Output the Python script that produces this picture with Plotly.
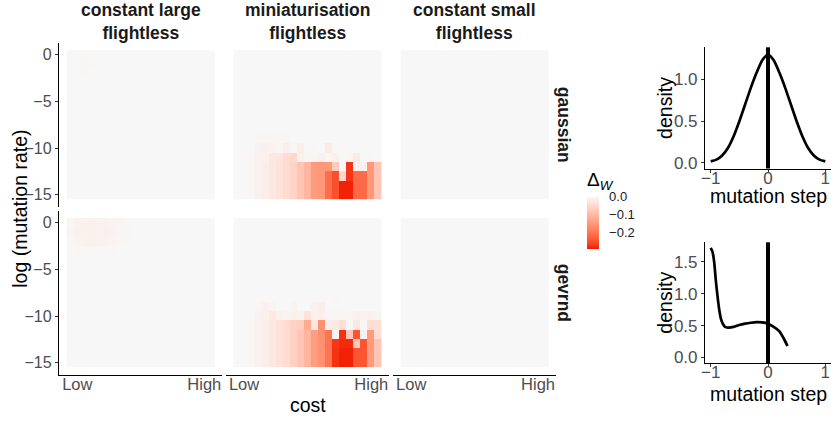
import plotly.graph_objects as go

W, H = 831, 421
FONT = "Liberation Sans, Arial, sans-serif"

# ---------------- data ----------------
cost = [0.00, 0.05, 0.10, 0.15, 0.20, 0.25, 0.30, 0.35, 0.40, 0.45, 0.50,
        0.55, 0.60, 0.65, 0.70, 0.75, 0.80, 0.85, 0.90, 0.95, 1.00]
log_mu = [0, -1, -2, -3, -4, -5, -6, -7, -8, -9, -10, -11, -12, -13, -14, -15]
cost_tickvals = [0.05, 0.95]
cost_ticktext = ["Low", "High"]
mu_tickvals = [0, -5, -10, -15]
mu_ticktext = ["0", "−5", "−10", "−15"]

col_labels = ["constant large<br>flightless", "miniaturisation<br>flightless", "constant small<br>flightless"]
row_labels = ["gaussian", "gevrnd"]

# delta W, rows = log_mu (0 .. -15), cols = cost
gauss_large = [
    [0, -0.002, -0.002, -0.001, 0, 0, 0, 0, 0, 0, 0, 0, 0, 0, 0, 0, 0, 0, 0, 0, 0],
    [-0.001, -0.002, -0.002, -0.002, 0, 0, 0, 0, 0, 0, 0, 0, 0, 0, 0, 0, 0, 0, 0, 0, 0],
    [0, -0.001, -0.002, 0, 0, 0, 0, 0, 0, 0, 0, 0, 0, 0, 0, 0, 0, 0, 0, 0, 0],
    [0, 0, 0, 0, 0, 0, 0, 0, 0, 0, 0, 0, 0, 0, 0, 0, 0, 0, 0, 0, 0],
    [0, 0, 0, 0, 0, 0, 0, 0, 0, 0, 0, 0, 0, 0, 0, 0, 0, 0, 0, 0, 0],
    [0, 0, 0, 0, 0, 0, 0, 0, 0, 0, 0, 0, 0, 0, 0, 0, 0, 0, 0, 0, 0],
    [0, 0, 0, 0, 0, 0, 0, 0, 0, 0, 0, 0, 0, 0, 0, 0, 0, 0, 0, 0, 0],
    [0, 0, 0, 0, 0, 0, 0, 0, 0, 0, 0, 0, 0, 0, 0, 0, 0, 0, 0, 0, 0],
    [0, 0, 0, 0, 0, 0, 0, 0, 0, 0, 0, 0, 0, 0, 0, 0, 0, 0, 0, 0, 0],
    [0, 0, 0, 0, 0, 0, 0, 0, 0, 0, 0, 0, 0, 0, 0, 0, 0, 0, 0, 0, 0],
    [0, 0, 0, 0, 0, 0, 0, 0, 0, 0, 0, 0, 0, 0, 0, 0, 0, 0, 0, 0, 0],
    [0, 0, 0, 0, 0, 0, 0, 0, 0, 0, 0, 0, 0, 0, 0, 0, 0, 0, 0, 0, 0],
    [0, 0, 0, 0, 0, 0, 0, 0, 0, 0, 0, 0, 0, 0, 0, 0, 0, 0, 0, 0, 0],
    [0, 0, 0, 0, 0, 0, 0, 0, 0, 0, 0, 0, 0, 0, 0, 0, 0, 0, 0, 0, 0],
    [0, 0, 0, 0, 0, 0, 0, 0, 0, 0, 0, 0, 0, 0, 0, 0, 0, 0, 0, 0, 0],
    [0, 0, 0, 0, 0, 0, 0, 0, 0, 0, 0, 0, 0, 0, 0, 0, 0, 0, 0, 0, 0],
]

gauss_mini = [
    [0, 0, 0, 0, 0, 0, 0, 0, 0, 0, 0, 0, 0, 0, 0, 0, 0, 0, 0, 0, 0],
    [0, 0, 0, 0, 0, 0, 0, 0, 0, 0, 0, 0, 0, 0, 0, 0, 0, 0, 0, 0, 0],
    [0, 0, 0, 0, 0, 0, 0, 0, 0, 0, 0, 0, 0, 0, 0, 0, 0, 0, 0, 0, 0],
    [0, 0, 0, 0, 0, 0, 0, 0, 0, 0, 0, 0, 0, 0, 0, 0, 0, 0, 0, 0, 0],
    [0, 0, 0, 0, 0, 0, 0, 0, 0, 0, 0, 0, 0, 0, 0, 0, 0, 0, 0, 0, 0],
    [0, 0, 0, 0, 0, 0, 0, 0, 0, 0, 0, 0, 0, 0, 0, 0, 0, 0, 0, 0, 0],
    [0, 0, 0, 0, 0, 0, 0, 0, 0, 0, 0, 0, 0, 0, 0, 0, 0, 0, 0, 0, 0],
    [0, 0, 0, 0, 0, 0, 0, 0, 0, 0, 0, 0, 0, 0, 0, 0, 0, 0, 0, 0, 0],
    [0, 0, 0, 0, 0, 0, 0, 0, 0, 0, 0, 0, 0, 0, 0, 0, 0, 0, 0, 0, 0],
    [0, 0, 0, -0.003, -0.003, -0.003, -0.002, -0.003, 0, 0, 0, 0, 0, 0, 0, 0, 0, 0, 0, 0, 0],
    [0, 0, 0, -0.008, -0.010, -0.008, -0.004, -0.015, -0.003, -0.015, 0, -0.002, 0, -0.020, 0, 0, 0, 0, 0, 0, 0],
    [0, 0, -0.003, -0.010, -0.012, -0.025, -0.030, -0.045, -0.050, -0.012, -0.003, -0.006, -0.010, -0.003, -0.012, 0, -0.004, -0.022, 0, -0.003, 0],
    [0, 0, -0.003, -0.010, -0.015, -0.025, -0.032, -0.045, -0.055, -0.080, -0.105, -0.145, -0.150, -0.150, -0.070, 0, -0.270, -0.010, -0.010, -0.150, -0.080],
    [0, 0, -0.003, -0.010, -0.015, -0.025, -0.032, -0.045, -0.055, -0.080, -0.105, -0.145, -0.150, -0.210, -0.245, -0.050, -0.270, -0.215, -0.215, -0.150, -0.080],
    [0, 0, -0.003, -0.010, -0.015, -0.025, -0.032, -0.045, -0.055, -0.080, -0.105, -0.145, -0.150, -0.210, -0.245, -0.285, -0.285, -0.215, -0.215, -0.150, -0.080],
    [0, 0, -0.003, -0.010, -0.015, -0.025, -0.032, -0.045, -0.055, -0.080, -0.105, -0.145, -0.150, -0.210, -0.245, -0.285, -0.285, -0.215, -0.215, -0.150, -0.080],
]

gauss_small = [
    [0, 0, 0, 0, 0, 0, 0, 0, 0, 0, 0, 0, 0, 0, 0, 0, 0, 0, 0, 0, 0],
    [0, 0, 0, 0, 0, 0, 0, 0, 0, 0, 0, 0, 0, 0, 0, 0, 0, 0, 0, 0, 0],
    [0, 0, 0, 0, 0, 0, 0, 0, 0, 0, 0, 0, 0, 0, 0, 0, 0, 0, 0, 0, 0],
    [0, 0, 0, 0, 0, 0, 0, 0, 0, 0, 0, 0, 0, 0, 0, 0, 0, 0, 0, 0, 0],
    [0, 0, 0, 0, 0, 0, 0, 0, 0, 0, 0, 0, 0, 0, 0, 0, 0, 0, 0, 0, 0],
    [0, 0, 0, 0, 0, 0, 0, 0, 0, 0, 0, 0, 0, 0, 0, 0, 0, 0, 0, 0, 0],
    [0, 0, 0, 0, 0, 0, 0, 0, 0, 0, 0, 0, 0, 0, 0, 0, 0, 0, 0, 0, 0],
    [0, 0, 0, 0, 0, 0, 0, 0, 0, 0, 0, 0, 0, 0, 0, 0, 0, 0, 0, 0, 0],
    [0, 0, 0, 0, 0, 0, 0, 0, 0, 0, 0, 0, 0, 0, 0, 0, 0, 0, 0, 0, 0],
    [0, 0, 0, 0, 0, 0, 0, 0, 0, 0, 0, 0, 0, 0, 0, 0, 0, 0, 0, 0, 0],
    [0, 0, 0, 0, 0, 0, 0, 0, 0, 0, 0, 0, 0, 0, 0, 0, 0, 0, 0, 0, 0],
    [0, 0, 0, 0, 0, 0, 0, 0, 0, 0, 0, 0, 0, 0, 0, 0, 0, 0, 0, 0, 0],
    [0, 0, 0, 0, 0, 0, 0, 0, 0, 0, 0, 0, 0, 0, 0, 0, 0, 0, 0, 0, 0],
    [0, 0, 0, 0, 0, 0, 0, 0, 0, 0, 0, 0, 0, 0, 0, 0, 0, 0, 0, 0, 0],
    [0, 0, 0, 0, 0, 0, 0, 0, 0, 0, 0, 0, 0, 0, 0, 0, 0, 0, 0, 0, 0],
    [0, 0, 0, 0, 0, 0, 0, 0, 0, 0, 0, 0, 0, 0, 0, 0, 0, 0, 0, 0, 0],
]

gev_large = [
    [-0.004, -0.008, -0.010, -0.010, -0.009, -0.008, -0.006, -0.005, -0.003, 0, 0, 0, 0, 0, 0, 0, 0, 0, 0, 0, 0],
    [-0.005, -0.009, -0.012, -0.012, -0.011, -0.010, -0.008, -0.006, -0.004, 0, 0, 0, 0, 0, 0, 0, 0, 0, 0, 0, 0],
    [-0.003, -0.007, -0.010, -0.010, -0.009, -0.008, -0.006, -0.004, -0.002, 0, 0, 0, 0, 0, 0, 0, 0, 0, 0, 0, 0],
    [0, -0.003, -0.004, -0.004, -0.003, -0.002, -0.002, 0, 0, 0, 0, 0, 0, 0, 0, 0, 0, 0, 0, 0, 0],
    [0, 0, 0, 0, 0, 0, 0, 0, 0, 0, 0, 0, 0, 0, 0, 0, 0, 0, 0, 0, 0],
    [0, 0, 0, 0, 0, 0, 0, 0, 0, 0, 0, 0, 0, 0, 0, 0, 0, 0, 0, 0, 0],
    [0, 0, 0, 0, 0, 0, 0, 0, 0, 0, 0, 0, 0, 0, 0, 0, 0, 0, 0, 0, 0],
    [0, 0, 0, 0, 0, 0, 0, 0, 0, 0, 0, 0, 0, 0, 0, 0, 0, 0, 0, 0, 0],
    [0, 0, 0, 0, 0, 0, 0, 0, 0, 0, 0, 0, 0, 0, 0, 0, 0, 0, 0, 0, 0],
    [0, 0, 0, 0, 0, 0, 0, 0, 0, 0, 0, 0, 0, 0, 0, 0, 0, 0, 0, 0, 0],
    [0, 0, 0, 0, 0, 0, 0, 0, 0, 0, 0, 0, 0, 0, 0, 0, 0, 0, 0, 0, 0],
    [0, 0, 0, 0, 0, 0, 0, 0, 0, 0, 0, 0, 0, 0, 0, 0, 0, 0, 0, 0, 0],
    [0, 0, 0, 0, 0, 0, 0, 0, 0, 0, 0, 0, 0, 0, 0, 0, 0, 0, 0, 0, 0],
    [0, 0, 0, 0, 0, 0, 0, 0, 0, 0, 0, 0, 0, 0, 0, 0, 0, 0, 0, 0, 0],
    [0, 0, 0, 0, 0, 0, 0, 0, 0, 0, 0, 0, 0, 0, 0, 0, 0, 0, 0, 0, 0],
    [0, 0, 0, 0, 0, 0, 0, 0, 0, 0, 0, 0, 0, 0, 0, 0, 0, 0, 0, 0, 0],
]

gev_mini = [
    [0, 0, 0, 0, 0, 0, 0, 0, 0, 0, 0, 0, 0, 0, 0, 0, 0, 0, 0, 0, 0],
    [0, 0, 0, 0, 0, 0, 0, 0, 0, 0, 0, 0, 0, 0, 0, 0, 0, 0, 0, 0, 0],
    [0, 0, 0, 0, 0, 0, 0, 0, 0, 0, 0, 0, 0, 0, 0, 0, 0, 0, 0, 0, 0],
    [0, 0, 0, 0, 0, 0, 0, 0, 0, 0, 0, 0, 0, 0, 0, 0, 0, 0, 0, 0, 0],
    [0, 0, 0, 0, 0, 0, 0, 0, 0, 0, 0, 0, 0, 0, 0, 0, 0, 0, 0, 0, 0],
    [0, 0, 0, 0, 0, 0, 0, 0, 0, 0, 0, 0, 0, 0, 0, 0, 0, 0, 0, 0, 0],
    [0, 0, 0, 0, 0, 0, 0, 0, 0, 0, 0, 0, 0, 0, 0, 0, 0, 0, 0, 0, 0],
    [0, 0, 0, 0, 0, 0, 0, 0, 0, 0, 0, 0, 0, 0, 0, 0, 0, 0, 0, 0, 0],
    [0, 0, 0, 0, 0, 0, 0, 0, 0, 0, 0, 0, 0, 0, -0.003, 0, 0, 0, 0, 0, 0],
    [0, 0, 0, -0.004, -0.010, -0.005, 0, 0, -0.008, 0, 0, -0.010, -0.015, 0, 0, 0, 0, 0, 0, 0, 0],
    [0, 0, 0, -0.008, -0.012, -0.022, -0.010, -0.006, -0.012, -0.008, -0.035, -0.012, -0.015, -0.005, -0.003, -0.006, -0.005, -0.012, -0.008, -0.010, -0.005],
    [0, 0, -0.003, -0.010, -0.015, -0.025, -0.035, -0.045, -0.060, -0.065, -0.120, -0.025, -0.160, -0.015, -0.020, -0.040, 0, -0.025, -0.003, -0.040, -0.040],
    [0, 0, -0.003, -0.010, -0.015, -0.025, -0.035, -0.045, -0.060, -0.080, -0.105, -0.140, -0.160, -0.200, -0.005, -0.275, -0.075, -0.240, -0.010, -0.145, -0.040],
    [0, 0, -0.003, -0.010, -0.015, -0.025, -0.035, -0.045, -0.060, -0.080, -0.105, -0.140, -0.160, -0.200, -0.270, -0.280, -0.280, -0.075, -0.240, -0.145, -0.080],
    [0, 0, -0.003, -0.010, -0.015, -0.025, -0.035, -0.045, -0.060, -0.080, -0.105, -0.140, -0.160, -0.200, -0.275, -0.285, -0.285, -0.240, -0.240, -0.145, -0.080],
    [0, 0, -0.003, -0.010, -0.015, -0.025, -0.035, -0.045, -0.060, -0.080, -0.105, -0.140, -0.160, -0.200, -0.275, -0.285, -0.285, -0.240, -0.240, -0.145, -0.080],
]

gev_small = [row[:] for row in gauss_small]

z_min, z_max = -0.29, 0.0
cbar_tickvals = [0.0, -0.1, -0.2]
cbar_ticktext = ["0.0", "−0.1", "−0.2"]

# mutation-step densities
gauss_step = [-1.0, -0.9, -0.8, -0.7, -0.6, -0.5, -0.4, -0.3, -0.2, -0.1, 0.0,
              0.1, 0.2, 0.3, 0.4, 0.5, 0.6, 0.7, 0.8, 0.9, 1.0]
gauss_dens = [0.02, 0.04, 0.09, 0.18, 0.32, 0.50, 0.70, 0.90, 1.08, 1.23, 1.30,
              1.23, 1.08, 0.90, 0.70, 0.50, 0.32, 0.18, 0.09, 0.04, 0.02]
gev_step = [-1.0, -0.97, -0.94, -0.91, -0.88, -0.85, -0.82, -0.79, -0.75, -0.70,
            -0.60, -0.50, -0.40, -0.30, -0.20, -0.10, 0.0, 0.10, 0.20, 0.28, 0.34]
gev_dens = [1.72, 1.66, 1.50, 1.20, 0.95, 0.74, 0.60, 0.53, 0.48, 0.47,
            0.48, 0.51, 0.53, 0.545, 0.555, 0.55, 0.53, 0.48, 0.41, 0.29, 0.18]
step_tickvals = [-1, 0, 1]
step_ticktext = ["−1", "0", "1"]
gauss_dens_ticks = [0.0, 0.5, 1.0]
gev_dens_ticks = [0.0, 0.5, 1.0, 1.5]
vline_x = 0

# ---------------- colour scale (Lab interpolation, red -> grey97) ----------------
def _lin(c):
    return c / 12.92 if c <= 0.04045 else ((c + 0.055) / 1.055) ** 2.4

def _delin(c):
    c = max(0.0, min(1.0, c))
    return 12.92 * c if c <= 0.0031308 else 1.055 * c ** (1 / 2.4) - 0.055

def _rgb2lab(h):
    r, g, b = [_lin(int(h[i:i + 2], 16) / 255) for i in (1, 3, 5)]
    X = (0.4124 * r + 0.3576 * g + 0.1805 * b) / 0.95047
    Y = 0.2126 * r + 0.7152 * g + 0.0722 * b
    Z = (0.0193 * r + 0.1192 * g + 0.9505 * b) / 1.08883
    f = lambda t: t ** (1 / 3) if t > 0.008856 else 7.787 * t + 16 / 116
    fx_, fy_, fz_ = f(X), f(Y), f(Z)
    return 116 * fy_ - 16, 500 * (fx_ - fy_), 200 * (fy_ - fz_)

def _lab2hex(L, a, b):
    fy_ = (L + 16) / 116
    fx_ = fy_ + a / 500
    fz_ = fy_ - b / 200
    finv = lambda t: t ** 3 if t ** 3 > 0.008856 else (t - 16 / 116) / 7.787
    X, Y, Z = 0.95047 * finv(fx_), finv(fy_), 1.08883 * finv(fz_)
    r = 3.2406 * X - 1.5372 * Y - 0.4986 * Z
    g = -0.9689 * X + 1.8758 * Y + 0.0415 * Z
    bb = 0.0557 * X - 0.2040 * Y + 1.0570 * Z
    return "#%02x%02x%02x" % tuple(round(_delin(c) * 255) for c in (r, g, bb))

lo, hi = _rgb2lab("#f21a00"), _rgb2lab("#f7f7f7")
nst = 20
colorscale = []
for i in range(nst + 1):
    t = i / nst
    colorscale.append([t, _lab2hex(*[lo[k] + (hi[k] - lo[k]) * t for k in range(3)])])

# ---------------- layout helpers ----------------
def fx(px):
    return px / W

def fy(py):
    return 1 - py / H

def ydom(top, bottom):
    return [fy(bottom), fy(top)]

panel_x = [(59.3, 222.3), (226.0, 389.3), (393.3, 556.0)]
panel_y = [(42.7, 207.0), (210.6, 374.8)]
dens_x = (705.0, 831.0)
dens_y = [(47.3, 168.5), (242.3, 363.0)]

AX_TXT = "#4d4d4d"
TICK_C = "#333333"

fig = go.Figure()
layout = dict(
    width=W, height=H, margin=dict(l=0, r=0, t=0, b=0, autoexpand=False),
    paper_bgcolor="white", plot_bgcolor="white",
    font=dict(family=FONT, color="black"),
    showlegend=False,
    coloraxis=dict(
        cmin=z_min, cmax=z_max, colorscale=colorscale,
        colorbar=dict(
            x=fx(586.7), xanchor="left", xpad=0, ypad=0,
            y=fy(222.5), yanchor="middle",
            len=51.6, lenmode="pixels", thickness=11.6, thicknessmode="pixels",
            outlinewidth=0,
            tickvals=cbar_tickvals, ticktext=cbar_ticktext,
            ticks="outside", ticklen=8, tickcolor="rgba(0,0,0,0)",
            tickfont=dict(family=FONT, size=13, color="#1a1a1a"),
        ),
    ),
)

panels = [[gauss_large, gauss_mini, gauss_small], [gev_large, gev_mini, gev_small]]
k = 0
for r in range(2):
    for c in range(3):
        k += 1
        sfx = "" if k == 1 else str(k)
        fig.add_trace(go.Heatmap(
            z=panels[r][c], x=cost, y=log_mu, coloraxis="coloraxis",
            xaxis="x" + sfx, yaxis="y" + sfx, hoverinfo="skip",
        ))
        xa = dict(domain=[fx(panel_x[c][0]), fx(panel_x[c][1])], range=[-0.0775, 1.0775],
                  anchor="y" + sfx, showgrid=False, zeroline=False, fixedrange=True,
                  automargin=False)
        ya = dict(domain=ydom(*panel_y[r]), range=[-16.3, 1.3], anchor="x" + sfx,
                  showgrid=False, zeroline=False, fixedrange=True, automargin=False)
        if r == 1:
            xa.update(showline=True, linecolor="black", linewidth=1.1,
                      tickvals=cost_tickvals, ticktext=cost_ticktext, ticks="",
                      ticklabelstandoff=-6,
                      tickfont=dict(family=FONT, size=16.5, color=AX_TXT))
        else:
            xa.update(showline=False, showticklabels=False, ticks="")
        if c == 0:
            ya.update(showline=True, linecolor="black", linewidth=1.1,
                      tickvals=mu_tickvals, ticktext=mu_ticktext, ticks="outside",
                      ticklen=3.5, tickwidth=1, tickcolor=TICK_C,
                      tickfont=dict(family=FONT, size=16, color=AX_TXT))
        else:
            ya.update(showline=False, showticklabels=False, ticks="")
        layout["xaxis" + sfx] = xa
        layout["yaxis" + sfx] = ya

# density panels
dens_sets = [(gauss_step, gauss_dens, gauss_dens_ticks, [-0.066, 1.386]),
             (gev_step, gev_dens, gev_dens_ticks, [-0.086, 1.806])]
shapes = []
for i, (xs, ys, yt, yr) in enumerate(dens_sets):
    n = 7 + i
    sfx = str(n)
    fig.add_trace(go.Scatter(x=xs, y=ys, mode="lines", xaxis="x" + sfx, yaxis="y" + sfx,
                             line=dict(color="black", width=2.7, shape="spline", smoothing=0.6),
                             hoverinfo="skip"))
    layout["xaxis" + sfx] = dict(
        domain=[fx(dens_x[0]), fx(dens_x[1])], range=[-1.1, 1.1], anchor="y" + sfx,
        showgrid=False, zeroline=False, showline=True, linecolor="black", linewidth=1.1,
        tickvals=step_tickvals, ticktext=step_ticktext, ticks="outside", ticklen=3,
        ticklabelstandoff=-9,
        tickcolor=TICK_C, tickfont=dict(family=FONT, size=17, color=AX_TXT),
        fixedrange=True, automargin=False)
    layout["yaxis" + sfx] = dict(
        domain=ydom(*dens_y[i]), range=yr, anchor="x" + sfx,
        showgrid=False, zeroline=False, showline=True, linecolor="black", linewidth=1.1,
        tickvals=yt, tickformat=".1f", ticks="outside", ticklen=3,
        tickcolor=TICK_C, tickfont=dict(family=FONT, size=17, color=AX_TXT),
        fixedrange=True, automargin=False)
    shapes.append(dict(type="line", xref="x" + sfx, yref="y" + sfx + " domain",
                       x0=vline_x, x1=vline_x, y0=0, y1=1,
                       line=dict(color="black", width=4)))

layout["shapes"] = shapes

ann = []
for c in range(3):
    ann.append(dict(x=fx(sum(panel_x[c]) / 2), y=fy(21.5), xref="paper", yref="paper",
                    text="<b>" + col_labels[c] + "</b>", showarrow=False,
                    xanchor="center", yanchor="middle",
                    font=dict(family=FONT, size=17.5, color="#1a1a1a")))
for r in range(2):
    ann.append(dict(x=fx(564), y=fy(sum(panel_y[r]) / 2), xref="paper", yref="paper",
                    text="<b>" + row_labels[r] + "</b>", showarrow=False, textangle=90,
                    xanchor="center", yanchor="middle",
                    font=dict(family=FONT, size=17.5, color="#1a1a1a")))
ann.append(dict(x=fx(sum(panel_x[1]) / 2), y=fy(405), xref="paper", yref="paper",
                text="cost", showarrow=False, xanchor="center", yanchor="middle",
                font=dict(family=FONT, size=19.5, color="black")))
ann.append(dict(x=fx(20), y=fy((panel_y[0][0] + panel_y[1][1]) / 2), xref="paper", yref="paper",
                text="log (mutation rate)", showarrow=False, textangle=-90,
                xanchor="center", yanchor="middle",
                font=dict(family=FONT, size=19.5, color="black")))
ann.append(dict(x=fx(585), y=fy(181), xref="paper", yref="paper",
                text="Δ<sub><i>W</i></sub>", showarrow=False, xanchor="left", yanchor="middle",
                font=dict(family=FONT, size=19, color="black")))
for i in range(2):
    ann.append(dict(x=fx(665), y=fy(sum(dens_y[i]) / 2), xref="paper", yref="paper",
                    text="density", showarrow=False, textangle=-90,
                    xanchor="center", yanchor="middle",
                    font=dict(family=FONT, size=19.5, color="black")))
    ann.append(dict(x=fx(768), y=fy([196, 394][i]), xref="paper", yref="paper",
                    text="mutation step", showarrow=False, xanchor="center", yanchor="middle",
                    font=dict(family=FONT, size=19.5, color="black")))
layout["annotations"] = ann

fig.update_layout(**layout)
fig.write_html("out.html", config={"displayModeBar": False},
               post_script="document.body.style.margin='0px';document.body.style.overflow='hidden';")
